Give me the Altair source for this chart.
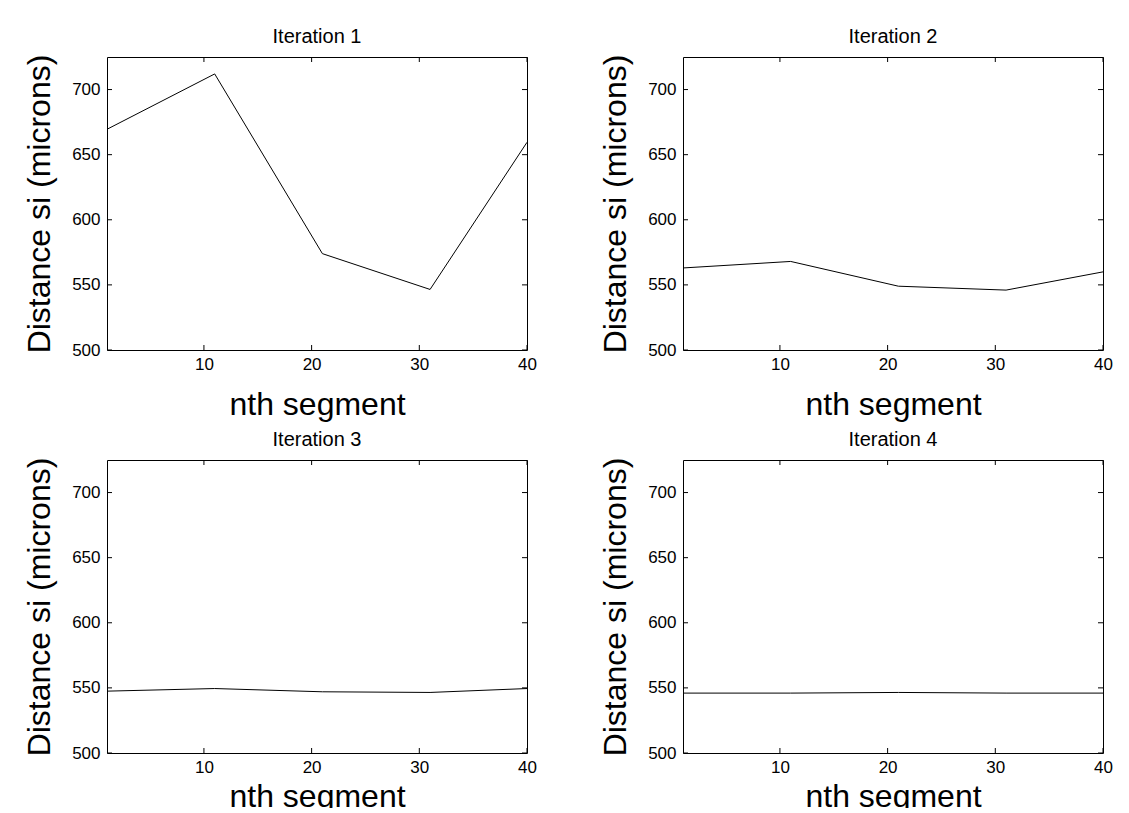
import altair as alt
import pandas as pd

# ---- data ----
SEGMENTS = [1, 11, 21, 31, 40]
ITER1 = [669.5, 712, 574, 546.5, 659.5]
ITER2 = [563, 568, 549, 546, 560]
ITER3 = [547.5, 549.5, 547, 546.5, 549.5]
ITER4 = [546, 546, 546.5, 546, 546]
TITLES = ["Iteration 1", "Iteration 2", "Iteration 3", "Iteration 4"]
X_TICKS = [10, 20, 30, 40]
Y_TICKS = [500, 550, 600, 650, 700]
X_DOMAIN = [1, 40]
Y_DOMAIN = [500, 725]
X_TITLE = "nth segment"
Y_TITLE = "Distance si (microns)"

W, H = 420, 293
TICK = 5
FONT = "Liberation Sans"


def panel(values, title, xtitle_pad):
    df = pd.DataFrame({"segment": SEGMENTS, "distance": values})
    xsc = alt.Scale(domain=X_DOMAIN, nice=False, zero=False)
    ysc = alt.Scale(domain=Y_DOMAIN, nice=False, zero=False)
    line = alt.Chart(df).mark_line(color="black", strokeWidth=1).encode(
        x=alt.X("segment:Q", scale=xsc,
                axis=alt.Axis(values=X_TICKS, title=X_TITLE, labelPadding=6,
                              titlePadding=xtitle_pad, titleFontSize=32)),
        y=alt.Y("distance:Q", scale=ysc,
                axis=alt.Axis(values=Y_TICKS, title=Y_TITLE, labelPadding=7,
                              titlePadding=15, titleFontSize=32)),
    )
    yt = pd.DataFrame({"distance": Y_TICKS})
    xt = pd.DataFrame({"segment": X_TICKS})
    left = alt.Chart(yt).mark_rule(color="black", strokeWidth=1).encode(
        y=alt.Y("distance:Q", scale=ysc),
        x=alt.value(0), x2=alt.value(TICK))
    right = alt.Chart(yt).mark_rule(color="black", strokeWidth=1).encode(
        y=alt.Y("distance:Q", scale=ysc),
        x=alt.value(W - TICK), x2=alt.value(W))
    bottom = alt.Chart(xt).mark_rule(color="black", strokeWidth=1).encode(
        x=alt.X("segment:Q", scale=xsc),
        y=alt.value(H), y2=alt.value(H - TICK))
    top = alt.Chart(xt).mark_rule(color="black", strokeWidth=1).encode(
        x=alt.X("segment:Q", scale=xsc),
        y=alt.value(0), y2=alt.value(TICK))
    return alt.layer(line, left, right, bottom, top).properties(
        width=W, height=H,
        title=alt.TitleParams(title, fontSize=20, font=FONT,
                              fontWeight="normal", color="black", offset=7),
        view=alt.ViewBackground(stroke="black", strokeWidth=1),
    )


series = [ITER1, ITER2, ITER3, ITER4]
pads = [17, 17, 6, 6]
panels = [panel(v, t, p) for v, t, p in zip(series, TITLES, pads)]

chart = alt.concat(
    *panels, columns=2, spacing={"row": 110, "column": 156}, bounds="flush"
).properties(
    padding={"left": 15, "top": 18, "right": 5, "bottom": -5},
    background="white",
).configure_view(
    stroke="black", strokeWidth=1
).configure_axis(
    grid=False, domain=False, ticks=False, tickSize=0,
    labelFont=FONT, labelFontSize=17, labelColor="black", labelFlush=False,
    titleFont=FONT, titleFontWeight="normal", titleColor="black",
)

chart.save("out.html", embed_options={"renderer": "svg", "actions": False})
